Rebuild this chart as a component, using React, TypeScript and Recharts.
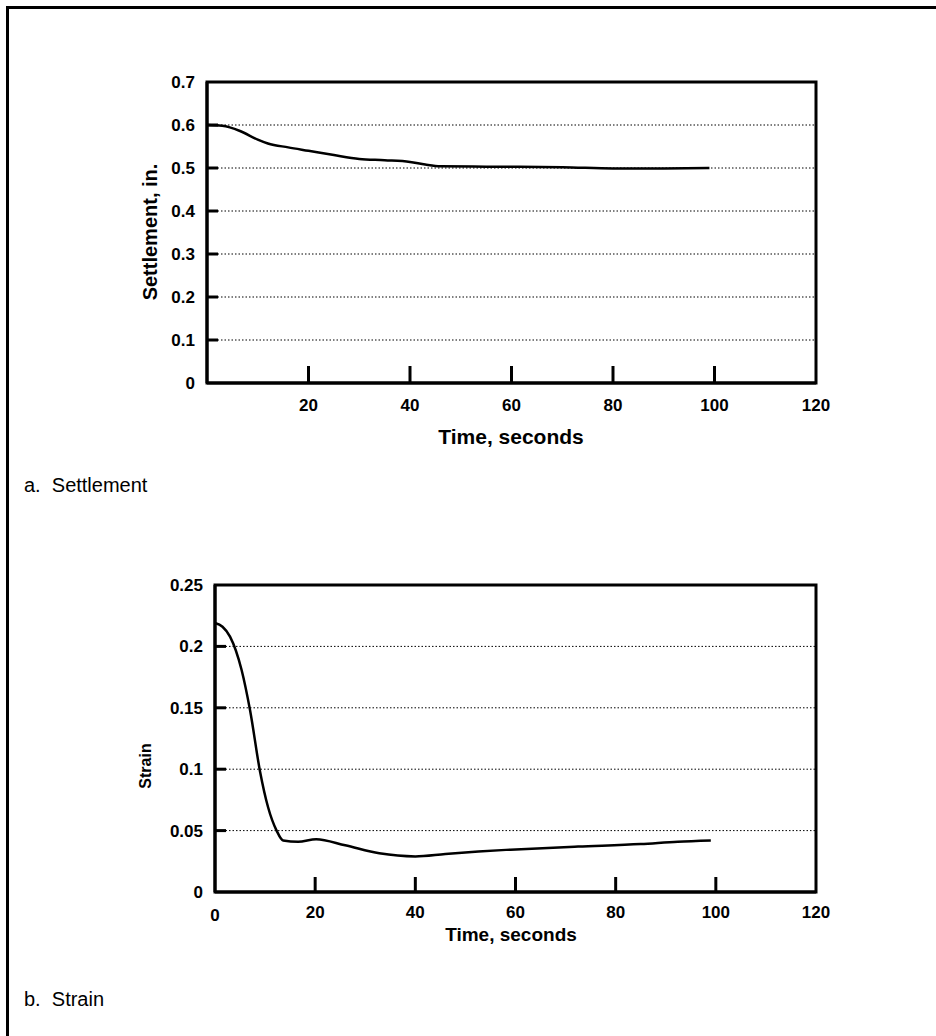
import React from 'react';
import {
  LineChart,
  Line,
  XAxis,
  YAxis,
  CartesianGrid,
  ReferenceArea,
} from 'recharts';

const settleTime = [0, 3, 6.5, 10, 12, 16, 20, 25, 30, 35, 40, 43, 46, 55, 70, 80, 90, 99];
const settleValues = [
  0.6, 0.598, 0.586, 0.566, 0.557, 0.548, 0.54, 0.53, 0.521, 0.518, 0.514, 0.508, 0.504,
  0.503, 0.502, 0.499, 0.499, 0.5,
];

const strainTime = [0, 1.5, 3, 5.3, 7, 9, 10.6, 12.3, 13.6, 16.6, 20.2, 26, 32.8, 40, 46, 52.6, 59, 72.5, 85, 92.4, 99];
const strainValues = [
  0.219, 0.216, 0.208, 0.181, 0.148, 0.098, 0.069, 0.05, 0.042, 0.041, 0.043, 0.038, 0.0315,
  0.029, 0.031, 0.033, 0.0345, 0.037, 0.039, 0.041, 0.042,
];

const timeTicksA = [20, 40, 60, 80, 100, 120];
const timeTicksB = [0, 20, 40, 60, 80, 100, 120];
const settleTicks = [0, 0.1, 0.2, 0.3, 0.4, 0.5, 0.6, 0.7];
const strainTicks = [0, 0.05, 0.1, 0.15, 0.2, 0.25];

const settleData = settleTime.map((t, i) => ({ t, v: settleValues[i] }));
const strainData = strainTime.map((t, i) => ({ t, v: strainValues[i] }));

const font = '"Liberation Sans", Arial, sans-serif';

function makeXTick(labelDy: number, zeroDy: number, tickLen: number) {
  return (props: any) => {
    const { x, y, payload } = props;
    const v = payload.value;
    const inner = v > 0 && v < 120;
    return (
      <g>
        {inner && <line x1={x} y1={y} x2={x} y2={y - tickLen} stroke="#000" strokeWidth={3} />}
        <text
          x={x}
          y={y + (v === 0 ? zeroDy : labelDy)}
          textAnchor="middle"
          fontFamily={font}
          fontWeight="bold"
          fontSize={17}
          fill="#000"
        >
          {v}
        </text>
      </g>
    );
  };
}

function makeYTick(maxVal: number) {
  return (props: any) => {
    const { x, y, payload } = props;
    const v = payload.value;
    const inner = v > 0 && v < maxVal - 0.0001;
    return (
      <g>
        {inner && <line x1={x} y1={y} x2={x + 11} y2={y} stroke="#000" strokeWidth={3} />}
        <text
          x={x - 12}
          y={y + 6}
          textAnchor="end"
          fontFamily={font}
          fontWeight="bold"
          fontSize={17}
          fill="#000"
        >
          {v}
        </text>
      </g>
    );
  };
}

const abs = (left: number, top: number): React.CSSProperties => ({
  position: 'absolute',
  left,
  top,
  whiteSpace: 'nowrap',
  color: '#000',
  fontFamily: font,
});

export default function App() {
  return (
    <div style={{ position: 'absolute', left: 0, top: 0, width: 936, height: 1036, background: '#fff', overflow: 'hidden' }}>
      {/* page frame, top and left edges only */}
      <div style={{ position: 'absolute', left: 6, top: 6, width: 940, height: 1040, borderTop: '3px solid #000', borderLeft: '3px solid #000' }} />

      {/* a. Settlement */}
      <div style={{ position: 'absolute', left: 0, top: 0 }}>
        <LineChart width={936} height={460} data={settleData} margin={{ top: 82, right: 120, left: 147, bottom: 17 }}>
          <CartesianGrid vertical={false} stroke="#000" strokeWidth={1} strokeDasharray="1.5 2" />
          <XAxis
            dataKey="t"
            type="number"
            domain={[0, 120]}
            ticks={timeTicksA}
            height={60}
            tickSize={0}
            tickMargin={0}
            axisLine={{ stroke: '#000', strokeWidth: 3 }}
            tick={makeXTick(28, 28, 17)}
          />
          <YAxis
            type="number"
            domain={[0, 0.7]}
            ticks={settleTicks}
            width={60}
            tickSize={0}
            tickMargin={0}
            axisLine={{ stroke: '#000', strokeWidth: 3 }}
            tick={makeYTick(0.7)}
          />
          <ReferenceArea x1={0} x2={120} y1={0} y2={0.7} stroke="#000" strokeWidth={3} fill="none" ifOverflow="visible" />
          <Line type="monotone" dataKey="v" stroke="#000" strokeWidth={2.5} dot={false} isAnimationActive={false} />
        </LineChart>
      </div>
      <div style={{ ...abs(150, 232), transform: 'translate(-50%, -50%) rotate(-90deg)', fontWeight: 'bold', fontSize: 20 }}>
        Settlement, in.
      </div>
      <div style={{ ...abs(511, 437), transform: 'translate(-50%, -50%)', fontWeight: 'bold', fontSize: 21 }}>
        Time, seconds
      </div>
      <div style={{ ...abs(24, 474), fontSize: 20 }}>a.&nbsp;&nbsp;Settlement</div>

      {/* b. Strain */}
      <div style={{ position: 'absolute', left: 0, top: 500 }}>
        <LineChart width={936} height={460} data={strainData} margin={{ top: 85, right: 120, left: 155, bottom: 13 }}>
          <CartesianGrid vertical={false} stroke="#000" strokeWidth={1} strokeDasharray="1.5 2" />
          <XAxis
            dataKey="t"
            type="number"
            domain={[0, 120]}
            ticks={timeTicksB}
            height={55}
            tickSize={0}
            tickMargin={0}
            axisLine={{ stroke: '#000', strokeWidth: 3 }}
            tick={makeXTick(26, 29, 15)}
          />
          <YAxis
            type="number"
            domain={[0, 0.25]}
            ticks={strainTicks}
            width={60}
            tickSize={0}
            tickMargin={0}
            axisLine={{ stroke: '#000', strokeWidth: 3 }}
            tick={makeYTick(0.25)}
          />
          <ReferenceArea x1={0} x2={120} y1={0} y2={0.25} stroke="#000" strokeWidth={3} fill="none" ifOverflow="visible" />
          <Line type="monotone" dataKey="v" stroke="#000" strokeWidth={2.5} dot={false} isAnimationActive={false} />
        </LineChart>
      </div>
      <div style={{ ...abs(146, 766), transform: 'translate(-50%, -50%) rotate(-90deg)', fontWeight: 'bold', fontSize: 16 }}>
        Strain
      </div>
      <div style={{ ...abs(511, 935), transform: 'translate(-50%, -50%)', fontWeight: 'bold', fontSize: 19 }}>
        Time, seconds
      </div>
      <div style={{ ...abs(24, 988), fontSize: 20 }}>b.&nbsp;&nbsp;Strain</div>
    </div>
  );
}
